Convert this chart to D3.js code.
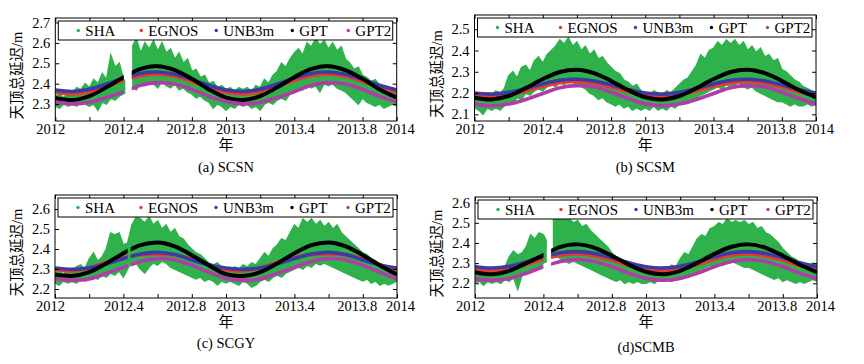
<!DOCTYPE html>
<html>
<head>
<meta charset="utf-8">
<script src="https://cdn.jsdelivr.net/npm/d3@7"></script>
<style>
  body { margin: 0; background: #fff; }
  text { font-family: "Liberation Serif", "Times New Roman", "Noto Sans CJK SC", serif; }
</style>
</head>
<body>
<script>
// ---- data ----
const seriesNames = ["SHA", "EGNOS", "UNB3m", "GPT", "GPT2"];
const seriesColors = ["#2fb24c", "#e8392c", "#3b3ba6", "#000000", "#b03ca8"];

const xTicks = [2012, 2012.2, 2012.4, 2012.6, 2012.8, 2013, 2013.2, 2013.4, 2013.6, 2013.8, 2014];
const xTickLabels = ["2012", "", "2012.4", "", "2012.8", "2013", "", "2013.4", "", "2013.8", "2014"];
// the original nudges crowded labels apart (px)
const xLabelNudge = [-5, 0, 0, 0, -6, 4, 0, 0, 0, -6, 3];

// model curves sampled every 0.1 yr
const modelYears = [2012.0, 2012.1, 2012.2, 2012.3, 2012.4, 2012.5, 2012.6, 2012.7, 2012.8, 2012.9,
  2013.0, 2013.1, 2013.2, 2013.3, 2013.4, 2013.5, 2013.6, 2013.7, 2013.8, 2013.9, 2014.0];

// SHA measured ZTD envelope, one value every 0.025 yr from 2012.0
const shaStart = 2012, shaStep = 0.025;

// (a) SCSN
const scsnShaHigh = [2.34, 2.35, 2.33, 2.36, 2.35, 2.38, 2.37, 2.40, 2.38, 2.42, 2.40, 2.45, 2.42, 2.54, 2.48, 2.50, 2.42, 2.40, 2.58, 2.62,
  2.55, 2.60, 2.57, 2.61, 2.56, 2.60, 2.55, 2.57, 2.52, 2.55, 2.50, 2.52, 2.46, 2.47, 2.43, 2.44, 2.40, 2.41, 2.38, 2.39,
  2.37, 2.38, 2.36, 2.38, 2.37, 2.38, 2.36, 2.39, 2.38, 2.42, 2.40, 2.44, 2.46, 2.50, 2.48, 2.52, 2.55, 2.57, 2.54, 2.60,
  2.58, 2.62, 2.59, 2.61, 2.57, 2.60, 2.56, 2.58, 2.52, 2.50, 2.47, 2.48, 2.44, 2.43, 2.41, 2.42, 2.39, 2.38, 2.37, 2.38, 2.36];
const scsnShaLow = [2.29, 2.28, 2.30, 2.29, 2.30, 2.29, 2.31, 2.30, 2.29, 2.30, 2.27, 2.31, 2.30, 2.33, 2.32, 2.34, 2.35, 2.36, 2.38, 2.37,
  2.40, 2.39, 2.41, 2.40, 2.38, 2.41, 2.39, 2.38, 2.40, 2.37, 2.38, 2.36, 2.35, 2.33, 2.34, 2.32, 2.31, 2.28, 2.30, 2.29,
  2.27, 2.29, 2.28, 2.30, 2.29, 2.30, 2.28, 2.29, 2.27, 2.30, 2.31, 2.30, 2.32, 2.33, 2.32, 2.35, 2.36, 2.38, 2.37, 2.40,
  2.38, 2.39, 2.36, 2.40, 2.39, 2.40, 2.38, 2.37, 2.36, 2.34, 2.32, 2.30, 2.33, 2.31, 2.30, 2.29, 2.30, 2.28, 2.29, 2.30, 2.29];
const scsnEGNOS = [2.358, 2.350, 2.361, 2.386, 2.416, 2.439, 2.447, 2.436, 2.411, 2.381, 2.358, 2.350, 2.361, 2.386, 2.416, 2.439, 2.447, 2.436, 2.411, 2.381, 2.358];
const scsnUNB3m = [2.369, 2.362, 2.373, 2.398, 2.427, 2.450, 2.457, 2.446, 2.421, 2.392, 2.369, 2.362, 2.373, 2.398, 2.427, 2.450, 2.457, 2.446, 2.421, 2.392, 2.369];
const scsnGPT = [2.330, 2.320, 2.339, 2.382, 2.432, 2.473, 2.486, 2.467, 2.424, 2.372, 2.332, 2.320, 2.339, 2.382, 2.432, 2.473, 2.486, 2.467, 2.424, 2.372, 2.332];
const scsnGPT2 = [2.310, 2.301, 2.308, 2.332, 2.360, 2.392, 2.405, 2.398, 2.372, 2.338, 2.312, 2.301, 2.308, 2.332, 2.360, 2.392, 2.405, 2.398, 2.372, 2.338, 2.310];

// (b) SCSM
const scsmShaHigh = [2.19, 2.20, 2.18, 2.20, 2.19, 2.21, 2.20, 2.22, 2.28, 2.30, 2.27, 2.32, 2.33, 2.30, 2.35, 2.37, 2.34, 2.38, 2.40, 2.42,
  2.45, 2.43, 2.46, 2.42, 2.44, 2.40, 2.42, 2.38, 2.40, 2.36, 2.37, 2.34, 2.32, 2.30, 2.29, 2.26, 2.25, 2.23, 2.24, 2.21,
  2.20, 2.19, 2.21, 2.20, 2.19, 2.21, 2.20, 2.22, 2.24, 2.26, 2.27, 2.30, 2.33, 2.38, 2.36, 2.40, 2.41, 2.44, 2.42, 2.45,
  2.43, 2.45, 2.42, 2.44, 2.40, 2.42, 2.39, 2.41, 2.37, 2.38, 2.35, 2.36, 2.31, 2.30, 2.28, 2.26, 2.25, 2.23, 2.22, 2.21, 2.20];
const scsmShaLow = [2.13, 2.12, 2.10, 2.13, 2.12, 2.13, 2.12, 2.14, 2.16, 2.15, 2.18, 2.17, 2.20, 2.19, 2.21, 2.22, 2.21, 2.23, 2.24, 2.23,
  2.25, 2.24, 2.26, 2.25, 2.24, 2.23, 2.22, 2.20, 2.19, 2.17, 2.18, 2.16, 2.15, 2.14, 2.15, 2.13, 2.14, 2.12, 2.13, 2.12,
  2.13, 2.12, 2.14, 2.12, 2.13, 2.12, 2.14, 2.13, 2.15, 2.16, 2.15, 2.17, 2.18, 2.19, 2.20, 2.21, 2.22, 2.23, 2.22, 2.24,
  2.23, 2.24, 2.25, 2.23, 2.22, 2.23, 2.21, 2.20, 2.19, 2.18, 2.17, 2.16, 2.16, 2.15, 2.14, 2.15, 2.14, 2.14, 2.15, 2.14, 2.15];
const scsmEGNOS = [2.189, 2.183, 2.191, 2.210, 2.232, 2.249, 2.255, 2.247, 2.228, 2.206, 2.189, 2.183, 2.191, 2.210, 2.232, 2.249, 2.255, 2.247, 2.228, 2.206, 2.189];
const scsmUNB3m = [2.200, 2.195, 2.203, 2.221, 2.243, 2.260, 2.265, 2.257, 2.239, 2.217, 2.200, 2.195, 2.203, 2.221, 2.243, 2.260, 2.265, 2.257, 2.239, 2.217, 2.200];
const scsmGPT = [2.178, 2.170, 2.186, 2.223, 2.266, 2.299, 2.310, 2.294, 2.257, 2.214, 2.180, 2.170, 2.186, 2.223, 2.266, 2.299, 2.310, 2.294, 2.257, 2.214, 2.180];
const scsmGPT2 = [2.147, 2.140, 2.148, 2.170, 2.198, 2.225, 2.235, 2.228, 2.204, 2.174, 2.149, 2.140, 2.148, 2.170, 2.198, 2.225, 2.235, 2.228, 2.204, 2.174, 2.147];

// (c) SCGY
const scgyShaHigh = [2.28, 2.29, 2.27, 2.30, 2.29, 2.31, 2.32, 2.30, 2.35, 2.38, 2.34, 2.36, 2.40, 2.48, 2.47, 2.48, 2.42, 2.43, 2.52, 2.56,
  2.55, 2.53, 2.56, 2.52, 2.54, 2.50, 2.52, 2.48, 2.50, 2.46, 2.45, 2.42, 2.40, 2.38, 2.37, 2.35, 2.33, 2.32, 2.33, 2.31,
  2.30, 2.29, 2.31, 2.30, 2.32, 2.31, 2.33, 2.32, 2.35, 2.38, 2.36, 2.40, 2.42, 2.45, 2.44, 2.48, 2.52, 2.50, 2.55, 2.53,
  2.55, 2.52, 2.54, 2.51, 2.53, 2.50, 2.52, 2.48, 2.46, 2.44, 2.42, 2.40, 2.38, 2.37, 2.35, 2.34, 2.32, 2.31, 2.30, 2.30, 2.29];
const scgyShaLow = [2.23, 2.22, 2.24, 2.23, 2.24, 2.23, 2.25, 2.24, 2.25, 2.26, 2.25, 2.27, 2.26, 2.28, 2.27, 2.29, 2.26, 2.30, 2.34, 2.33,
  2.30, 2.28, 2.31, 2.33, 2.32, 2.34, 2.33, 2.31, 2.30, 2.29, 2.28, 2.27, 2.26, 2.25, 2.26, 2.24, 2.25, 2.24, 2.22, 2.24,
  2.23, 2.24, 2.23, 2.22, 2.24, 2.23, 2.21, 2.22, 2.24, 2.25, 2.24, 2.26, 2.27, 2.26, 2.28, 2.29, 2.30, 2.31, 2.30, 2.32,
  2.31, 2.33, 2.32, 2.33, 2.32, 2.31, 2.30, 2.29, 2.28, 2.27, 2.26, 2.25, 2.24, 2.25, 2.23, 2.24, 2.22, 2.23, 2.22, 2.23, 2.24];
const scgyEGNOS = [2.296, 2.290, 2.305, 2.334, 2.358, 2.371, 2.375, 2.370, 2.352, 2.322, 2.296, 2.290, 2.305, 2.334, 2.358, 2.371, 2.375, 2.370, 2.352, 2.322, 2.296];
const scgyUNB3m = [2.305, 2.298, 2.306, 2.326, 2.352, 2.375, 2.383, 2.372, 2.345, 2.320, 2.305, 2.298, 2.306, 2.326, 2.352, 2.375, 2.383, 2.372, 2.345, 2.320, 2.305];
const scgyGPT = [2.272, 2.265, 2.284, 2.328, 2.379, 2.419, 2.432, 2.413, 2.369, 2.318, 2.274, 2.265, 2.284, 2.328, 2.379, 2.419, 2.432, 2.413, 2.369, 2.318, 2.272];
const scgyGPT2 = [2.250, 2.243, 2.250, 2.278, 2.308, 2.338, 2.352, 2.345, 2.318, 2.284, 2.252, 2.243, 2.250, 2.278, 2.308, 2.338, 2.352, 2.345, 2.318, 2.284, 2.250];

// (d) SCMB
const scmbShaHigh = [2.26, 2.27, 2.25, 2.27, 2.26, 2.27, 2.26, 2.28, 2.33, 2.36, 2.34, 2.35, 2.38, 2.44, 2.42, 2.45, 2.44, 2.40, 2.52, 2.55,
  2.51, 2.54, 2.52, 2.50, 2.51, 2.48, 2.49, 2.46, 2.44, 2.42, 2.40, 2.38, 2.35, 2.33, 2.32, 2.30, 2.30, 2.29, 2.28, 2.29,
  2.28, 2.27, 2.28, 2.27, 2.28, 2.27, 2.29, 2.28, 2.32, 2.35, 2.34, 2.38, 2.42, 2.44, 2.43, 2.47, 2.48, 2.50, 2.49, 2.52,
  2.50, 2.51, 2.50, 2.51, 2.49, 2.50, 2.47, 2.48, 2.45, 2.44, 2.42, 2.40, 2.37, 2.35, 2.33, 2.32, 2.30, 2.29, 2.29, 2.30, 2.29];
const scmbShaLow = [2.20, 2.21, 2.19, 2.21, 2.20, 2.21, 2.20, 2.22, 2.21, 2.23, 2.17, 2.24, 2.25, 2.27, 2.26, 2.28, 2.30, 2.31, 2.33, 2.34,
  2.32, 2.31, 2.30, 2.31, 2.30, 2.29, 2.28, 2.27, 2.26, 2.25, 2.24, 2.23, 2.22, 2.21, 2.22, 2.20, 2.21, 2.20, 2.21, 2.20,
  2.20, 2.21, 2.20, 2.22, 2.21, 2.22, 2.21, 2.23, 2.23, 2.24, 2.23, 2.25, 2.26, 2.27, 2.28, 2.29, 2.29, 2.30, 2.29, 2.30,
  2.31, 2.30, 2.29, 2.28, 2.28, 2.27, 2.26, 2.25, 2.24, 2.23, 2.22, 2.23, 2.21, 2.22, 2.21, 2.20, 2.21, 2.20, 2.21, 2.22, 2.21];
const scmbEGNOS = [2.268, 2.262, 2.271, 2.293, 2.319, 2.339, 2.345, 2.336, 2.314, 2.288, 2.268, 2.262, 2.271, 2.293, 2.319, 2.339, 2.345, 2.336, 2.314, 2.288, 2.268];
const scmbUNB3m = [2.282, 2.276, 2.285, 2.306, 2.331, 2.351, 2.357, 2.348, 2.327, 2.302, 2.282, 2.276, 2.285, 2.306, 2.331, 2.351, 2.357, 2.348, 2.327, 2.302, 2.282];
const scmbGPT = [2.255, 2.245, 2.262, 2.300, 2.340, 2.381, 2.393, 2.376, 2.337, 2.292, 2.257, 2.245, 2.262, 2.301, 2.346, 2.381, 2.393, 2.376, 2.337, 2.292, 2.255];
const scmbGPT2 = [2.223, 2.215, 2.224, 2.250, 2.282, 2.308, 2.318, 2.308, 2.282, 2.250, 2.224, 2.215, 2.224, 2.250, 2.282, 2.308, 2.318, 2.308, 2.282, 2.250, 2.223];

// ---- panels: data + layout ----
const panels = [
  { caption: "(a) SCSN", high: scsnShaHigh, low: scsnShaLow, models: [scsnEGNOS, scsnUNB3m, scsnGPT, scsnGPT2],
    shaGaps: [[2012.410, 2012.450]], modelGaps: [[2012.400, 2012.448]],
    yTicks: [2.3, 2.4, 2.5, 2.6, 2.7], yDomain: [2.217, 2.722],
    left: 55.3, right: 396.7, top: 18, bottom: 121, captionY: 172 },
  { caption: "(b) SCSM", high: scsmShaHigh, low: scsmShaLow, models: [scsmEGNOS, scsmUNB3m, scsmGPT, scsmGPT2],
    shaGaps: [], modelGaps: [],
    yTicks: [2.1, 2.2, 2.3, 2.4, 2.5], yDomain: [2.0685, 2.567],
    left: 474.5, right: 816, top: 15, bottom: 121, captionY: 172 },
  { caption: "(c) SCGY", high: scgyShaHigh, low: scgyShaLow, models: [scgyEGNOS, scgyUNB3m, scgyGPT, scgyGPT2],
    shaGaps: [], modelGaps: [[2012.425, 2012.442]],
    yTicks: [2.2, 2.3, 2.4, 2.5, 2.6], yDomain: [2.155, 2.67],
    left: 55, right: 397, top: 195, bottom: 298, captionY: 348 },
  { caption: "(d)SCMB", high: scmbShaHigh, low: scmbShaLow, models: [scmbEGNOS, scmbUNB3m, scmbGPT, scmbGPT2],
    shaGaps: [[2012.420, 2012.455]], modelGaps: [[2012.400, 2012.445]],
    yTicks: [2.2, 2.3, 2.4, 2.5, 2.6], yDomain: [2.127, 2.628],
    left: 475, right: 817, top: 197, bottom: 298, captionY: 352 }
];

const svg = d3.select("body").append("svg")
  .attr("width", 864)
  .attr("height", 364);

const legendDots = [23, 86, 161, 237, 293];

// clip = plot box with the gap intervals cut out
function makeClip(id, x, p, gaps) {
  const edges = [2012];
  gaps.forEach(g => edges.push(g[0], g[1]));
  edges.push(2014);
  const clip = svg.append("clipPath").attr("id", id);
  for (let k = 0; k < edges.length; k += 2) {
    clip.append("rect")
      .attr("x", x(edges[k]))
      .attr("y", p.top)
      .attr("width", x(edges[k + 1]) - x(edges[k]))
      .attr("height", p.bottom - p.top);
  }
  return `url(#${id})`;
}

panels.forEach((p, pi) => {
  const x = d3.scaleLinear().domain([2012, 2014]).range([p.left, p.right]);
  const y = d3.scaleLinear().domain(p.yDomain).range([p.bottom, p.top]);

  const sha = p.high.map((h, i) => ({ t: shaStart + i * shaStep, hi: h, lo: p.low[i] }));
  svg.append("g").attr("clip-path", makeClip("shaclip" + pi, x, p, p.shaGaps))
    .append("path")
    .datum(sha)
    .attr("fill", seriesColors[0])
    .attr("stroke", seriesColors[0])
    .attr("stroke-width", 1.5)
    .attr("d", d3.area().x(d => x(d.t)).y0(d => y(d.lo)).y1(d => y(d.hi)));

  const g = svg.append("g").attr("clip-path", makeClip("modclip" + pi, x, p, p.modelGaps));
  const line = d3.line().x(d => x(d.t)).y(d => y(d.v)).curve(d3.curveCatmullRom);
  p.models.forEach((vals, m) => {
    g.append("path")
      .datum(vals.map((v, i) => ({ t: modelYears[i], v: v })))
      .attr("fill", "none")
      .attr("stroke", seriesColors[m + 1])
      .attr("stroke-width", m === 2 ? 4 : 3.6)
      .attr("d", line);
  });

  // axes, ticks pointing inward on all sides
  const ax = svg.append("g");
  const bx = ax.append("g").attr("transform", `translate(0,${p.bottom})`)
    .call(d3.axisBottom(x).tickValues(xTicks).tickSize(-4).tickPadding(3)
      .tickFormat((d, i) => xTickLabels[i]));
  bx.selectAll(".tick text").attr("dx", (d, i) => xLabelNudge[i]);
  ax.append("g").attr("transform", `translate(0,${p.top})`)
    .call(d3.axisTop(x).tickValues(xTicks).tickSize(-4).tickFormat(""));
  ax.append("g").attr("transform", `translate(${p.left},0)`)
    .call(d3.axisLeft(y).tickValues(p.yTicks).tickSize(-4).tickPadding(5).tickFormat(d3.format(".1f")));
  ax.append("g").attr("transform", `translate(${p.right},0)`)
    .call(d3.axisRight(y).tickValues(p.yTicks).tickSize(-4).tickFormat(""));
  ax.selectAll(".domain").remove();
  ax.selectAll("g").attr("font-family", null).attr("font-size", null);
  ax.selectAll("text").attr("font-size", 14.5).attr("fill", "#000");
  ax.selectAll("line").attr("stroke", "#000");

  svg.append("rect")
    .attr("x", p.left).attr("y", p.top)
    .attr("width", p.right - p.left).attr("height", p.bottom - p.top)
    .attr("fill", "none").attr("stroke", "#000");

  // legend
  const lg = svg.append("g").attr("transform", `translate(${p.left + 3},${p.top + 3})`);
  lg.append("rect")
    .attr("width", p.right - p.left - 7).attr("height", 19)
    .attr("fill", "#fff").attr("stroke", "#000");
  seriesNames.forEach((name, k) => {
    lg.append("circle").attr("cx", legendDots[k] - 3).attr("cy", 9.5).attr("r", 1.7).attr("fill", seriesColors[k]);
    lg.append("text").attr("x", legendDots[k] + 4).attr("y", 15).attr("font-size", 15).text(name);
  });

  const cx = (p.left + p.right) / 2;
  svg.append("text")
    .attr("transform", `translate(${p.left - 33},${(p.top + p.bottom) / 2 + 6}) rotate(-90)`)
    .attr("text-anchor", "middle").attr("font-size", 14.5)
    .text("天顶总延迟/m");
  svg.append("text")
    .attr("x", cx).attr("y", p.bottom + 29)
    .attr("text-anchor", "middle").attr("font-size", 15)
    .text("年");
  svg.append("text")
    .attr("x", cx).attr("y", p.captionY)
    .attr("text-anchor", "middle").attr("font-size", 14.5)
    .text(p.caption);
});
</script>
</body>
</html>
